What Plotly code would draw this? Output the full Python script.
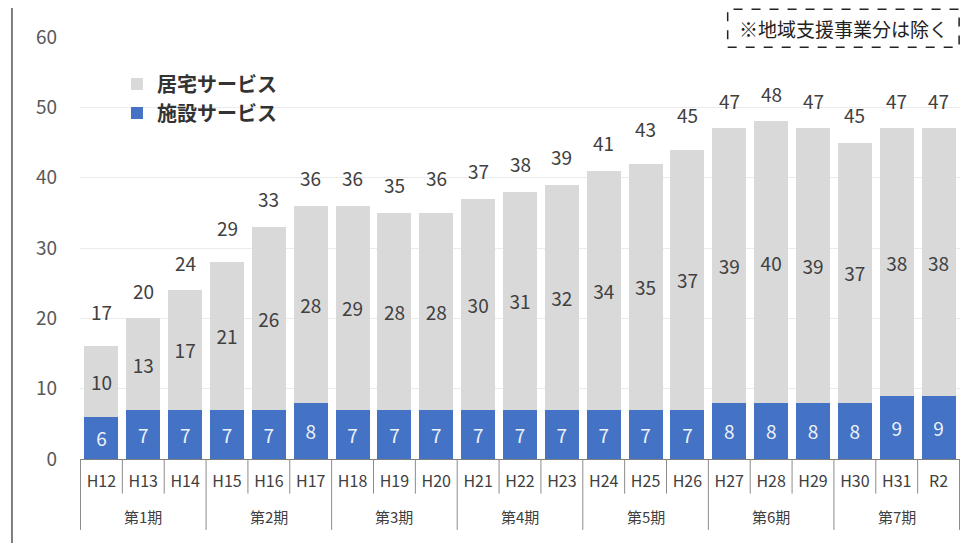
import plotly.graph_objects as go

periods = ["第1期"] * 3 + ["第2期"] * 3 + ["第3期"] * 3 + ["第4期"] * 3 + ["第5期"] * 3 + ["第6期"] * 3 + ["第7期"] * 3
years = ["H12", "H13", "H14", "H15", "H16", "H17", "H18", "H19", "H20", "H21", "H22",
         "H23", "H24", "H25", "H26", "H27", "H28", "H29", "H30", "H31", "R2"]
shisetsu = [6, 7, 7, 7, 7, 8, 7, 7, 7, 7, 7, 7, 7, 7, 7, 8, 8, 8, 8, 9, 9]
kyotaku = [10, 13, 17, 21, 26, 28, 29, 28, 28, 30, 31, 32, 34, 35, 37, 39, 40, 39, 37, 38, 38]
totals = [17, 20, 24, 29, 33, 36, 36, 35, 36, 37, 38, 39, 41, 43, 45, 47, 48, 47, 45, 47, 47]
yticks = [0, 10, 20, 30, 40, 50, 60]

FONT = "Noto Sans CJK JP"
BLUE = "#4472C4"
GREY = "#D9D9D9"
LINE = "#8C8C8C"

fig = go.Figure()
fig.add_trace(go.Bar(
    x=years, y=shisetsu, name="施設サービス",
    marker=dict(color=BLUE, line=dict(width=0)),
    text=shisetsu, textposition="inside", insidetextanchor="middle",
    textfont=dict(family=FONT, size=19, color="#EEF2FA"),
    legendgroup="a",
))
fig.add_trace(go.Bar(
    x=years, y=kyotaku, name="居宅サービス",
    marker=dict(color=GREY, line=dict(width=0)),
    text=kyotaku, textposition="inside", insidetextanchor="middle",
    textfont=dict(family=FONT, size=19, color="#404040"),
    legendgroup="b",
))

# total labels above bars
for i, t in enumerate(totals):
    fig.add_annotation(x=i, y=t, text=str(t), showarrow=False, yanchor="middle",
                       yshift=28, font=dict(family=FONT, size=19, color="#404040"))

# category separators (short) and period separators (long)
n = len(years)
for b in range(n + 1):
    is_group = b == 0 or b == n or periods[b] != periods[b - 1]
    fig.add_shape(type="line", xref="x", yref="paper", x0=b - 0.5, x1=b - 0.5,
                  y0=0, y1=-0.168 if is_group else -0.082,
                  line=dict(color=LINE, width=1))

# period labels
groups = []
for i, p in enumerate(periods):
    if not groups or groups[-1][0] != p:
        groups.append([p, []])
    groups[-1][1].append(i)
for p, idx in groups:
    fig.add_annotation(x=sum(idx) / len(idx), y=-0.137, xref="x", yref="paper", text=p,
                       showarrow=False, xanchor="center", yanchor="middle",
                       font=dict(family=FONT, size=15, color="#404040"))

# note box
fig.add_shape(type="rect", xref="paper", yref="paper", x0=0.736, x1=0.999, y0=0.976, y1=1.066,
              line=dict(color="#222222", width=1.5, dash="dash"), fillcolor="rgba(0,0,0,0)")
fig.add_annotation(xref="paper", yref="paper", x=0.868, y=1.021, xanchor="center", yanchor="middle",
                   text="※地域支援事業分は除く", showarrow=False,
                   font=dict(family=FONT, size=19, color="#222222"))
# left frame line
fig.add_shape(type="line", xref="paper", yref="paper", x0=-0.0773, x1=-0.0773, y0=-0.2, y1=1.07,
              line=dict(color="#555555", width=1.5))

fig.update_layout(
    width=954, height=535,
    margin=dict(l=72, r=2, t=29, b=84),
    paper_bgcolor="white", plot_bgcolor="white",
    barmode="stack", bargap=0.19,
    font=dict(family=FONT, color="#404040"),
    legend=dict(x=0.042, y=0.935, xanchor="left", yanchor="top", traceorder="reversed",
                tracegroupgap=17, bgcolor="rgba(0,0,0,0)",
                font=dict(family=FONT, size=20, color="#333333", weight="bold")),
    xaxis=dict(type="category", showline=True, linecolor="#7F7F7F", linewidth=1,
               ticks="", ticklabelstandoff=8,
               tickfont=dict(family=FONT, size=16, color="#404040")),
    yaxis=dict(range=[0, 60], tickvals=yticks, showgrid=True, gridcolor="#EBEBEB",
               zeroline=False, ticks="", ticklabelstandoff=22,
               tickfont=dict(family=FONT, size=19, color="#595959")),
)

fig.write_html("out.html")
